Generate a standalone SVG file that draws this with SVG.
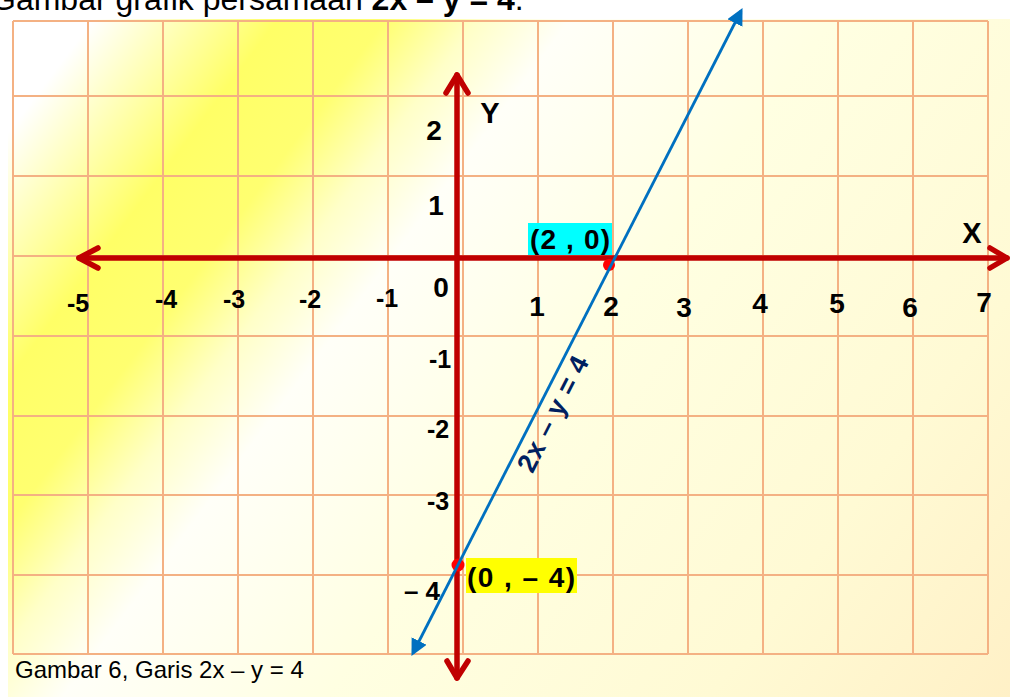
<svg xmlns="http://www.w3.org/2000/svg" width="1010" height="697" viewBox="0 0 1010 697">
  <defs>
    <linearGradient id="bg" gradientUnits="userSpaceOnUse" x1="0" y1="0" x2="986" y2="739">
      <stop offset="0" stop-color="#FFFFFF"/>
      <stop offset="0.07" stop-color="#FFFFFF"/>
      <stop offset="0.19" stop-color="#FFFF66"/>
      <stop offset="0.26" stop-color="#FFFF70"/>
      <stop offset="0.32" stop-color="#FFFFC8"/>
      <stop offset="0.38" stop-color="#FFFFF8"/>
      <stop offset="0.55" stop-color="#FFFFE2"/>
      <stop offset="0.8" stop-color="#FFFAD4"/>
      <stop offset="1" stop-color="#FFF0C6"/>
    </linearGradient>
    <marker id="blueArrow" viewBox="0 0 10 10" refX="8" refY="5" markerWidth="6" markerHeight="6" orient="auto-start-reverse">
      <path d="M0,0 L10,5 L0,10 z" fill="#0070C0"/>
    </marker>
    <style>
      .grid { stroke: #F4B183; stroke-width: 2; fill: none; }
      .axis { stroke: #C00000; stroke-width: 5.5; fill: none; stroke-linecap: round; stroke-linejoin: round; }
      .lbl { font-family: "Liberation Sans", Arial, sans-serif; font-weight: bold; fill: #000; text-anchor: middle; }
      .pos { font-size: 28px; }
      .neg { font-size: 25px; }
      .txt { font-family: "Liberation Sans", Arial, sans-serif; fill: #000; }
    </style>
  </defs>

  <rect x="0" y="0" width="1010" height="697" fill="#FFFFFF"/>
  <rect x="8" y="19" width="1002" height="678" fill="url(#bg)"/>

  <g id="title">
    <text class="txt" x="-9" y="10" font-size="32">Gambar grafik persamaan <tspan font-weight="bold">2x – y = 4</tspan>.</text>
  </g>

  <g id="grid">
    <path class="grid" d="M13,21 V654 M88,21 V654 M163,21 V654 M238,21 V654 M313,21 V654 M388,21 V654 M463,21 V654 M538,21 V654 M613,21 V654 M688,21 V654 M763,21 V654 M838,21 V654 M913,21 V654 M988,21 V654"/>
    <path class="grid" d="M13,21 H988 M13,96 H988 M13,176 H988 M13,256 H988 M13,336 H988 M13,416 H988 M13,495 H988 M13,575 H988 M13,654 H988"/>
  </g>

  <g id="connectors">
    <g id="x-axis">
      <path class="axis" d="M79,258 H1007"/>
      <path class="axis" d="M98,248 L79,258 L98,268"/>
      <path class="axis" d="M990,248 L1007,258 L990,268"/>
    </g>
    <g id="y-axis">
      <path class="axis" d="M457,75 V678"/>
      <path class="axis" d="M446,93 L457,75 L468,93"/>
      <path class="axis" d="M447,661 L457,678 L468,661"/>
    </g>
  </g>

  <g id="point-2-0">
    <circle cx="609" cy="265" r="6" fill="#FF0000"/>
    <rect x="528" y="223" width="84" height="32" fill="#00FFFF"/>
    <text class="lbl pos" x="570" y="249" textLength="80" lengthAdjust="spacing">(2 , 0)</text>
  </g>

  <g id="point-0-m4">
    <circle cx="458" cy="565" r="6.5" fill="#FF0000"/>
    <rect x="466" y="558" width="111" height="35" fill="#FFFF00"/>
    <text class="lbl pos" x="521" y="587" textLength="108" lengthAdjust="spacing">(0 , – 4)</text>
  </g>

  <g id="line-2x-y-4">
    <line x1="413" y1="653" x2="741" y2="11" stroke="#0070C0" stroke-width="2.8" marker-start="url(#blueArrow)" marker-end="url(#blueArrow)"/>
    <text x="561" y="418" transform="rotate(-63 561 418)" font-family="Liberation Sans, Arial, sans-serif" font-weight="bold" font-size="27" fill="#002060" text-anchor="middle" textLength="126" lengthAdjust="spacing">2x – y = 4</text>
  </g>

  <g id="axis-labels">
    <text class="lbl" x="490" y="123" font-size="29">Y</text>
    <text class="lbl" x="972" y="243" font-size="29">X</text>
  </g>

  <g id="y-ticks">
    <text class="lbl pos" x="434" y="140">2</text>
    <text class="lbl pos" x="436" y="215">1</text>
    <text class="lbl pos" x="441" y="297">0</text>
    <text class="lbl neg" x="440" y="368">-1</text>
    <text class="lbl neg" x="438" y="438">-2</text>
    <text class="lbl neg" x="438" y="510">-3</text>
    <text class="lbl" x="422" y="600" font-size="26">– 4</text>
  </g>

  <g id="x-ticks">
    <text class="lbl neg" x="78" y="312">-5</text>
    <text class="lbl neg" x="166" y="308">-4</text>
    <text class="lbl neg" x="234" y="308">-3</text>
    <text class="lbl neg" x="310" y="308">-2</text>
    <text class="lbl neg" x="387" y="307">-1</text>
    <text class="lbl pos" x="537" y="316">1</text>
    <text class="lbl pos" x="611" y="316">2</text>
    <text class="lbl pos" x="684" y="317">3</text>
    <text class="lbl pos" x="760" y="313">4</text>
    <text class="lbl pos" x="837" y="313">5</text>
    <text class="lbl pos" x="910" y="317">6</text>
    <text class="lbl pos" x="984" y="312">7</text>
  </g>

  <g id="caption">
    <text class="txt" x="15" y="678" font-size="24">Gambar 6, Garis 2x – y = 4</text>
  </g>
</svg>
